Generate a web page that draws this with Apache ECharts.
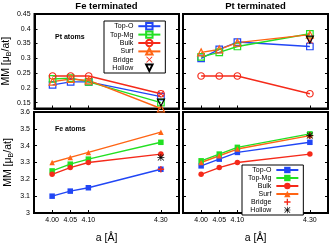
<!DOCTYPE html>
<html><head><meta charset="utf-8">
<script src="https://cdn.jsdelivr.net/npm/echarts@6/dist/echarts.min.js"></script>
<style>html,body{margin:0;padding:0;background:#fff}#c{width:331px;height:248px}</style>
</head><body><div id="c"></div>
<script>
// ---- data ----
const aValues = [4.00, 4.05, 4.10, 4.30];
const xTicks = [4.00, 4.05, 4.10, 4.30];
const ptTicks = [0.15, 0.20, 0.25, 0.30, 0.35, 0.40, 0.45];
const feTicks = [3.0, 3.1, 3.2, 3.3, 3.4, 3.5, 3.6];
const seriesNames = ['Top-O', 'Top-Mg', 'Bulk', 'Surf', 'Bridge', 'Hollow'];
const panelTitles = ['Fe terminated', 'Pt terminated'];

// Fe terminated, Pt atoms
const feTermPt_TopO = [0.21, 0.22, 0.22, 0.17];
const feTermPt_TopMg = [0.23, 0.233, 0.22, 0.15];
const feTermPt_Bulk = [0.24, 0.24, 0.24, 0.18];
const feTermPt_Surf = [0.221, 0.23, 0.225, 0.13];
const feTermPt_Bridge = [0.18];
const feTermPt_Hollow = [0.15];
// Pt terminated, Pt atoms
const ptTermPt_TopO = [0.30, 0.33, 0.355, 0.34];
const ptTermPt_TopMg = [0.305, 0.32, 0.34, 0.383];
const ptTermPt_Bulk = [0.24, 0.24, 0.24, 0.18];
const ptTermPt_Surf = [0.32, 0.33, 0.353, 0.38];
const ptTermPt_Bridge = [0.36];
const ptTermPt_Hollow = [0.363];
// Fe terminated, Fe atoms
const feTermFe_TopO = [3.10, 3.13, 3.15, 3.26];
const feTermFe_TopMg = [3.25, 3.29, 3.32, 3.42];
const feTermFe_Bulk = [3.23, 3.27, 3.30, 3.35];
const feTermFe_Surf = [3.30, 3.33, 3.36, 3.48];
const feTermFe_Bridge = [3.26];
const feTermFe_Hollow = [3.33];
// Pt terminated, Fe atoms
const ptTermFe_TopO = [3.28, 3.32, 3.36, 3.42];
const ptTermFe_TopMg = [3.31, 3.35, 3.39, 3.47];
const ptTermFe_Bulk = [3.23, 3.27, 3.30, 3.35];
const ptTermFe_Surf = [3.30, 3.34, 3.38, 3.46];
const ptTermFe_Bridge = [3.46];
const ptTermFe_Hollow = [3.46];

// ---- styles ----
const FONT = 'Liberation Sans';
const C = {blue: '#2146f5', green: '#22e022', red: '#f52a1a', orange: '#ff6414', black: '#000'};
const plusPath = 'path://M8,0L12,0L12,8L20,8L20,12L12,12L12,20L8,20L8,12L0,12L0,8L8,8Z';
const xPath = 'path://M2.5,0.5L19.5,17.5L17.5,19.5L0.5,2.5Z M17.5,0.5L19.5,2.5L2.5,19.5L0.5,17.5Z';
const starPath = 'path://M9,0L11,0L11,20L9,20Z M0,9L20,9L20,11L0,11Z M2,0.6L19.4,18L18,19.4L0.6,2Z M18,0.6L19.4,2L2,19.4L0.6,18Z';

const grids = [
  {left: 34, top: 14, width: 145, height: 94.5},
  {left: 183, top: 14, width: 145, height: 94.5},
  {left: 34, top: 112, width: 145, height: 101},
  {left: 183, top: 112, width: 145, height: 101}
];

function pairs(vals, xs) { return vals.map((v, i) => [xs[i], v]); }

const fmt = v => String(parseFloat((+v).toFixed(2)));

const xAxes = grids.map((g, i) => ({
  type: 'value', gridIndex: i, min: 3.95, max: 4.35,
  axisLine: {show: true, lineStyle: {color: '#000', width: 2}},
  axisTick: {show: true, inside: true, length: 3, customValues: xTicks, lineStyle: {color: '#000', width: 1}},
  axisLabel: {show: i >= 2, customValues: xTicks, formatter: v => (+v).toFixed(2), fontSize: 7, color: '#000', fontFamily: FONT, margin: 4},
  splitLine: {show: false},
  name: i >= 2 ? 'a [Å]' : '', nameLocation: 'middle', nameGap: 20,
  nameTextStyle: {fontSize: 10.5, color: '#000', fontFamily: FONT}
}));

const yAxes = [];
grids.forEach((g, i) => {
  const top = i < 2;
  const ticks = top ? ptTicks : feTicks;
  const base = {
    type: 'value', gridIndex: i, min: top ? 0.13 : 3.0, max: top ? 0.45 : 3.6,
    axisLine: {show: true, lineStyle: {color: '#000', width: 2}},
    axisTick: {show: true, inside: true, length: 3, customValues: ticks, lineStyle: {color: '#000', width: 1}},
    splitLine: {show: false}
  };
  yAxes.push(Object.assign({}, base, {
    position: 'left',
    axisLabel: {show: i % 2 === 0, customValues: ticks, formatter: fmt, fontSize: 7, color: '#000', fontFamily: FONT, margin: 4},
    name: i % 2 === 0 ? 'MM [μ{s|B}/at]' : '', nameLocation: 'middle', nameRotate: 90, nameGap: 19,
    nameTextStyle: {fontSize: 10.5, color: '#000', fontFamily: FONT, rich: {s: {fontSize: 7, fontFamily: FONT, color: '#000', padding: [6, 0, 0, 0]}}}
  }));
  yAxes.push(Object.assign({}, base, {position: 'right', axisLabel: {show: false}}));
});

function lineSeries(name, vals, gi, color, symbol, size, open, extra) {
  const s = {
    type: 'line', name: name, xAxisIndex: gi, yAxisIndex: gi * 2,
    data: pairs(vals, vals.length === 1 ? [aValues[3]] : aValues),
    symbol: symbol, symbolSize: size, showSymbol: true,
    lineStyle: {color: color, width: vals.length === 1 ? 0 : 1.4, opacity: vals.length === 1 ? 0 : 1},
    itemStyle: open ? {color: 'transparent', borderColor: color, borderWidth: 1.2} : {color: color, borderWidth: 0},
    emphasis: {disabled: true}, animation: false, z: 3
  };
  return Object.assign(s, extra || {});
}

const series = [];
// Top panels (open markers)
[[0, feTermPt_TopO, feTermPt_TopMg, feTermPt_Bulk, feTermPt_Surf, feTermPt_Bridge, feTermPt_Hollow],
 [1, ptTermPt_TopO, ptTermPt_TopMg, ptTermPt_Bulk, ptTermPt_Surf, ptTermPt_Bridge, ptTermPt_Hollow]].forEach(p => {
  const gi = p[0];
  series.push(lineSeries('Top-O', p[1], gi, C.blue, 'rect', 6.5, true));
  series.push(lineSeries('Top-Mg', p[2], gi, C.green, 'rect', 6.5, true));
  series.push(lineSeries('Bulk', p[3], gi, C.red, 'circle', 6.5, true));
  series.push(lineSeries('Surf', p[4], gi, C.orange, 'triangle', 7, true));
  series.push(lineSeries('Bridge', p[5], gi, C.red, xPath, 6.5, false, {symbolKeepAspect: true}));
  series.push(lineSeries('Hollow', p[6], gi, C.black, 'triangle', 7, true, {symbolRotate: 180}));
});
// Bottom panels (filled markers)
[[2, feTermFe_TopO, feTermFe_TopMg, feTermFe_Bulk, feTermFe_Surf, feTermFe_Bridge, feTermFe_Hollow],
 [3, ptTermFe_TopO, ptTermFe_TopMg, ptTermFe_Bulk, ptTermFe_Surf, ptTermFe_Bridge, ptTermFe_Hollow]].forEach(p => {
  const gi = p[0];
  series.push(lineSeries('Top-O|f', p[1], gi, C.blue, 'rect', 5.5, false));
  series.push(lineSeries('Top-Mg|f', p[2], gi, C.green, 'rect', 5.5, false));
  series.push(lineSeries('Bulk|f', p[3], gi, C.red, 'circle', 5.5, false));
  series.push(lineSeries('Surf|f', p[4], gi, C.orange, 'triangle', 5.5, false));
  series.push(lineSeries('Bridge|f', p[5], gi, C.red, plusPath, 6.5, false, {symbolKeepAspect: true}));
  series.push(lineSeries('Hollow|f', p[6], gi, C.black, starPath, 7, false, {symbolKeepAspect: true}));
});

const legendBase = {
  orient: 'vertical', align: 'right', itemWidth: 22, itemHeight: 8, itemGap: 0,
  selectedMode: false, borderColor: '#000', borderWidth: 1, backgroundColor: '#fff',
  padding: [1, 4, 1, 6],
  textStyle: {fontSize: 7, color: '#000', fontFamily: FONT, lineHeight: 8},
  formatter: n => n.split('|')[0]
};

const option = {
  animation: false,
  backgroundColor: '#fff',
  title: [
    {text: panelTitles[0], left: 106.5, top: 1, textAlign: 'center', padding: 0, textStyle: {fontSize: 9.5, fontWeight: 'bold', color: '#000', fontFamily: FONT}},
    {text: panelTitles[1], left: 255.5, top: 1, textAlign: 'center', padding: 0, textStyle: {fontSize: 9.5, fontWeight: 'bold', color: '#000', fontFamily: FONT}},
    {text: 'Pt atoms', left: 55, top: 34, padding: 0, textStyle: {fontSize: 7, fontWeight: 'bold', color: '#000', fontFamily: FONT}},
    {text: 'Fe atoms', left: 55, top: 126, padding: 0, textStyle: {fontSize: 7, fontWeight: 'bold', color: '#000', fontFamily: FONT}}
  ],
  grid: grids.map(g => Object.assign({show: true, borderColor: '#000', borderWidth: 2, backgroundColor: 'transparent', containLabel: false}, g)),
  xAxis: xAxes,
  yAxis: yAxes,
  legend: [
    Object.assign({}, legendBase, {left: 104, top: 21, data: seriesNames}),
    Object.assign({}, legendBase, {left: 242, top: 165, data: seriesNames.map(n => n + '|f')})
  ],
  series: series
};

const chart = echarts.init(document.getElementById('c'), null, {renderer: 'canvas'});
chart.setOption(option);
</script>
</body></html>
